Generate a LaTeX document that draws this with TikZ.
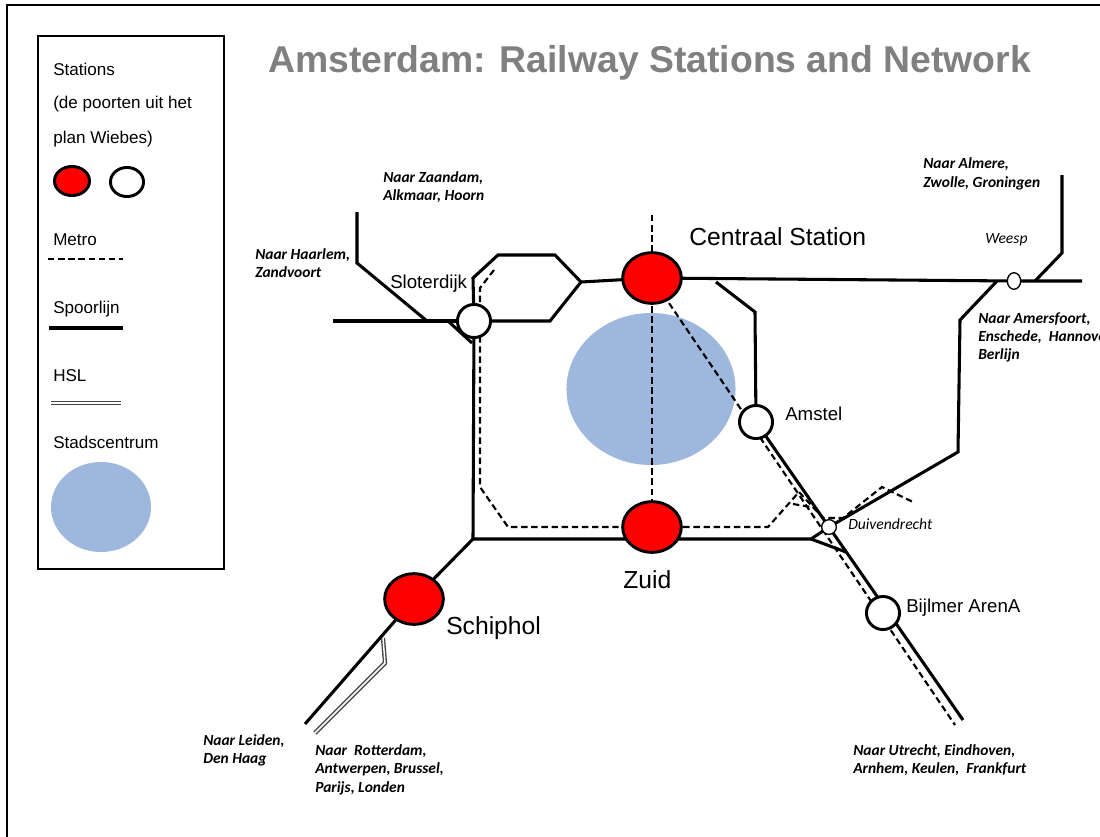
\documentclass[tikz,border=0pt]{standalone}
\usepackage{fontspec}
\setmainfont{Liberation Sans}
\newfontfamily\calfont{Carlito}
\usetikzlibrary{shapes.geometric}
\pgfdeclarelayer{bg}
\pgfdeclarelayer{lines}
\pgfsetlayers{bg,lines,main}
\definecolor{titlegray}{RGB}{128,128,128}
\definecolor{citycol}{RGB}{158,183,221}
\definecolor{hslgray}{RGB}{70,70,70}
\begin{document}
\begin{tikzpicture}[x=0.75pt,y=-0.75pt,
  rail/.style={line width=2.3pt, line join=miter},
  metro/.style={line width=1.6pt, dash pattern=on 4.8pt off 2.8pt},
  hsl/.style={draw=hslgray, line width=1.05pt, double=white, double distance=1.1pt},
  bigst/.style={ellipse, draw, line width=2.2pt, fill=red, minimum width=44pt, minimum height=38pt, inner sep=0},
  smallst/.style={circle, draw, line width=2.2pt, fill=white, minimum size=24.8pt, inner sep=0},
  tinyst/.style={ellipse, draw, line width=1pt, fill=white, inner sep=0},
  stlbl/.style={font=\fontsize{14}{16}\selectfont, anchor=base west, inner sep=0},
  biglbl/.style={font=\fontsize{18.5}{22}\selectfont, anchor=base west, inner sep=0},
  leg/.style={font=\fontsize{12.8}{15}\selectfont, anchor=base west, inner sep=0},
  dest/.style={font=\calfont\bfseries\itshape\fontsize{11.6}{14}\selectfont, anchor=base west, inner sep=0},
  place/.style={font=\calfont\itshape\fontsize{11.7}{14}\selectfont, anchor=base west, inner sep=0},
  cityshape/.style={ellipse, fill=citycol, inner sep=0}
]
\clip (0,0) rectangle (1100,836);
\begin{pgfonlayer}{bg}
\fill[white] (0,0) rectangle (1100,836);
\node[cityshape, minimum width=126.8pt, minimum height=114pt] (city) at (651,389) {};
\end{pgfonlayer}

% outer frame
\coordinate (fBL) at (7,840);
\coordinate (fTL) at (7,5);
\coordinate (fTR) at (1104,5);
\draw[line width=1.5pt] (fBL) -- (fTL) -- (fTR);

% title
\node[anchor=base west, inner sep=0, text=titlegray, font=\fontsize{28}{34}\selectfont\bfseries] (title) at (268,72) {Amsterdam: Railway Stations and Network};

% legend
\node[draw, line width=1.5pt, anchor=north west, minimum width=139.5pt, minimum height=399.75pt, inner sep=0] (legend) at (37,35) {};
\node[leg] (lg1) at (53,75) {Stations};
\node[leg] (lg2) at (53,108) {(de poorten uit het};
\node[leg] (lg3) at (53,143) {plan Wiebes)};
\node[ellipse, draw, line width=2.2pt, fill=red, minimum width=26.3pt, minimum height=21.8pt, inner sep=0] (legred) at (72,181) {};
\node[ellipse, draw, line width=2.2pt, fill=white, minimum width=24.8pt, minimum height=21.8pt, inner sep=0] (legwhite) at (127,182) {};
\node[leg] (lgmetro) at (53,245) {Metro};
\coordinate (lmA) at (48,259); \coordinate (lmB) at (123,259);
\draw[metro] (lmA) -- (lmB);
\node[leg] (lgspoor) at (53,313) {Spoorlijn};
\coordinate (lsA) at (49,328); \coordinate (lsB) at (123,328);
\draw[rail] (lsA) -- (lsB);
\node[leg] (lghsl) at (53,381) {HSL};
\coordinate (lhA) at (51,403); \coordinate (lhB) at (121,403);
\draw[hsl] (lhA) -- (lhB);
\node[leg] (lgcity) at (53,448) {Stadscentrum};
\node[cityshape, minimum width=75pt, minimum height=67.5pt] (legcity) at (101,507) {};

% stations
\node[bigst] (cs) at (652,278) {};
\node[bigst] (zuid) at (652,527) {};
\node[bigst] (schiphol) at (414,599) {};
\node[smallst] (slot) at (474,321) {};
\node[smallst] (amstel) at (756,422) {};
\node[smallst] (bijlmer) at (883,613) {};
\node[tinyst, minimum width=11pt, minimum height=11pt] (duiv) at (829,527) {};
\node[tinyst, minimum width=10pt, minimum height=12.4pt] (weesp) at (1014,281) {};

% station labels
\node[biglbl] (csl) at (689,245) {Centraal Station};
\node[biglbl] (zuidl) at (623,588) {Zuid};
\node[biglbl] (schl) at (446,634) {Schiphol};
\node[stlbl] (slotl) at (390,288) {Sloterdijk};
\node[stlbl] (amstell) at (785,420) {Amstel};
\node[stlbl] (bijl) at (906,612) {Bijlmer ArenA};
\node[place] (duivl) at (848,529) {Duivendrecht};
\node[place] (weespl) at (985,243) {Weesp};

% destinations
\node[dest] (za1) at (383,182) {Naar Zaandam,};
\node[dest] (za2) at (383,200) {Alkmaar, Hoorn};
\node[dest] (ha1) at (255,259) {Naar Haarlem,};
\node[dest] (ha2) at (255,277) {Zandvoort};
\node[dest] (al1) at (923,168) {Naar Almere,};
\node[dest] (al2) at (923,187) {Zwolle, Groningen};
\node[dest] (am1) at (978,323) {Naar Amersfoort,};
\node[dest] (am2) at (978,341) {Enschede,~ Hannover,};
\node[dest] (am3) at (978,359) {Berlijn};
\node[dest] (le1) at (203,745) {Naar Leiden,};
\node[dest] (le2) at (203,763) {Den Haag};
\node[dest] (ro1) at (315,755) {Naar~ Rotterdam,};
\node[dest] (ro2) at (315,773) {Antwerpen, Brussel,};
\node[dest] (ro3) at (315,792) {Parijs, Londen};
\node[dest] (ut1) at (853,755) {Naar Utrecht, Eindhoven,};
\node[dest] (ut2) at (853,773) {Arnhem, Keulen,~ Frankfurt};

% junction coordinates
\coordinate (hexE) at (581,282);
\coordinate (hexUL) at (473,278);
\coordinate (hexNW) at (498,255);
\coordinate (hexNE) at (555,255);
\coordinate (hexSE) at (550,321);
\coordinate (eastEnd) at (1082,281);
\coordinate (westEnd) at (333,321);
\coordinate (zaTop) at (357,212);
\coordinate (zaBend) at (357,263);
\coordinate (zaJoin) at (427,321);
\coordinate (curA) at (448,321);
\coordinate (curB) at (472,343);
\coordinate (swCorner) at (473,539);
\coordinate (zEast) at (811,539);
\coordinate (leidenEnd) at (305,724);
\coordinate (hslTop) at (383,638);
\coordinate (hslBend) at (385,663);
\coordinate (hslEnd) at (315,733);
\coordinate (csAm) at (716,282);
\coordinate (amBend) at (755,312);
\coordinate (southEnd) at (963,720);
\coordinate (triB) at (846,552);
\coordinate (wsA) at (958,452);
\coordinate (wsB) at (960,320);
\coordinate (wsC) at (997,281);
\coordinate (alA) at (1035,281);
\coordinate (alB) at (1062,253);
\coordinate (alC) at (1062,175);
\coordinate (metTop) at (652,215);
\coordinate (metSE) at (955,725);
\coordinate (ringA) at (494,270);
\coordinate (ringB) at (480,288);
\coordinate (ringC) at (480,487);
\coordinate (ringD) at (508,527);
\coordinate (ringE) at (768,527);
\coordinate (ringF) at (799,492);
\coordinate (ringG) at (823,518);
\coordinate (ringH) at (843,518);
\coordinate (ringI) at (882,487);
\coordinate (ringJ) at (913,502);
\coordinate (ringK) at (793,504);
\coordinate (ringL) at (811,507);

\begin{pgfonlayer}{lines}
% metro
\draw[metro] (metTop) -- (cs.center) -- (zuid.center);
\draw[metro] (cs.center) -- (metSE);
\draw[metro] (ringA) -- (ringB) -- (ringC) -- (ringD) -- (zuid.center) -- (ringE) -- (ringF) -- (ringG) -- (ringH) -- (ringI) -- (ringJ);
\draw[metro] (ringK) -- (ringL);
% rail
\draw[rail] (hexE) -- (cs.center) -- (weesp.center) -- (eastEnd);
\draw[rail] (slot.center) -- (hexUL) -- (hexNW) -- (hexNE) -- (hexE);
\draw[rail] (slot.center) -- (hexSE) -- (hexE);
\draw[rail] (westEnd) -- (slot.center);
\draw[rail] (zaTop) -- (zaBend) -- (zaJoin);
\draw[rail] (curA) -- (curB);
\draw[rail] (slot.center) -- (swCorner) -- (zEast);
\draw[rail] (swCorner) -- (schiphol.center) -- (leidenEnd);
\draw[rail] (csAm) -- (amBend) -- (amstel.center);
\draw[rail] (amstel.center) -- (southEnd);
\draw[rail] (zEast) -- (duiv.center);
\draw[rail] (zEast) -- (triB);
\draw[rail] (duiv.center) -- (wsA) -- (wsB) -- (wsC);
\draw[rail] (alA) -- (alB) -- (alC);
% HSL
\draw[hsl] (hslTop) -- (hslBend) -- (hslEnd);
\end{pgfonlayer}
\end{tikzpicture}
\end{document}
